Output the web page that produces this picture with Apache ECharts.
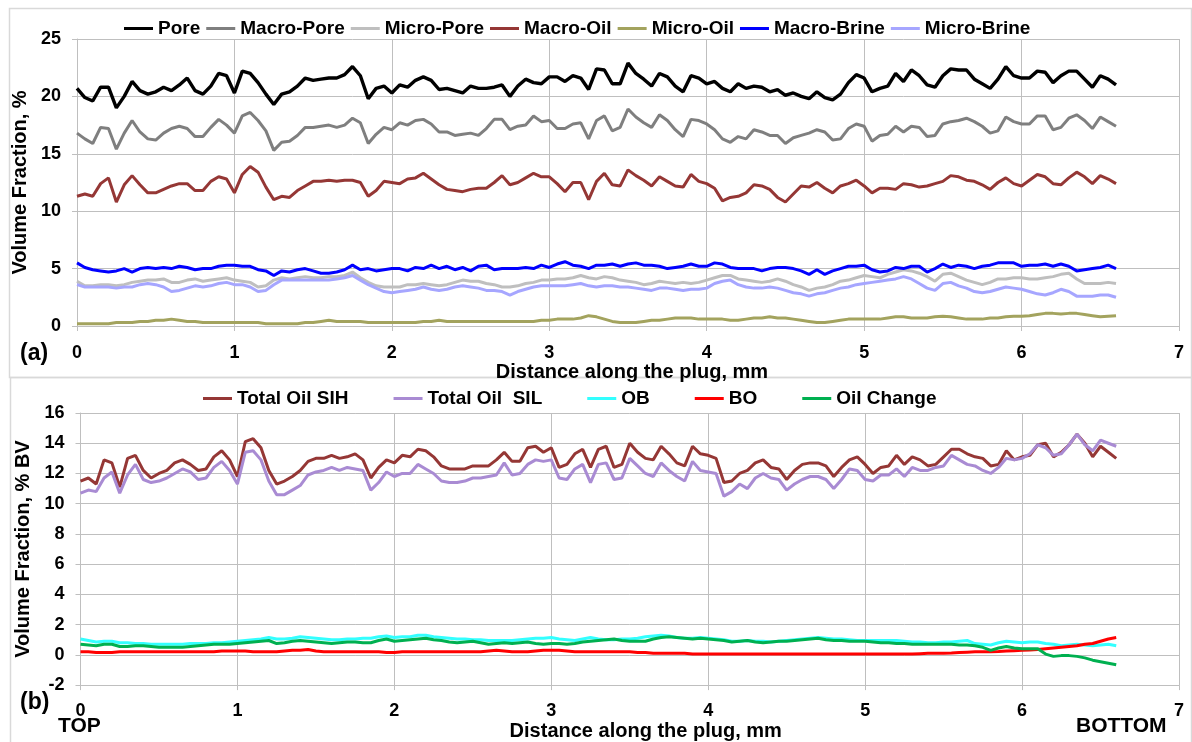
<!DOCTYPE html>
<html><head><meta charset="utf-8">
<script src="https://cdn.jsdelivr.net/npm/echarts@6/dist/echarts.min.js"></script>
<style>html,body{margin:0;padding:0;background:#fff}#c{width:1192px;height:742px}</style>
</head><body><div id="c"></div>
<script>
// Distance along the plug, mm
const distance = [0,0.05,0.1,0.15,0.2,0.25,0.3,0.35,0.4,0.45,
0.5,0.55,0.6,0.65,0.7,0.75,0.8,0.85,0.9,0.95,
1,1.05,1.1,1.15,1.2,1.25,1.3,1.35,1.4,1.45,
1.5,1.55,1.6,1.65,1.7,1.75,1.8,1.85,1.9,1.95,
2,2.05,2.1,2.15,2.2,2.25,2.3,2.35,2.4,2.45,
2.5,2.55,2.6,2.65,2.7,2.75,2.8,2.85,2.9,2.95,
3,3.05,3.1,3.15,3.2,3.25,3.3,3.35,3.4,3.45,
3.5,3.55,3.6,3.65,3.7,3.75,3.8,3.85,3.9,3.95,
4,4.05,4.1,4.15,4.2,4.25,4.3,4.35,4.4,4.45,
4.5,4.55,4.6,4.65,4.7,4.75,4.8,4.85,4.9,4.95,
5,5.05,5.1,5.15,5.2,5.25,5.3,5.35,5.4,5.45,
5.5,5.55,5.6,5.65,5.7,5.75,5.8,5.85,5.9,5.95,
6,6.05,6.1,6.15,6.2,6.25,6.3,6.35,6.4,6.45,
6.5,6.55,6.6];

// Panel (a)
const pore = [20.7,19.9,19.6,20.8,20.8,19.0,20.0,21.3,20.5,20.2,
20.4,20.8,20.5,21.0,21.6,20.5,20.2,20.9,22.0,21.8,
20.3,22.2,22.0,21.2,20.2,19.3,20.2,20.4,20.9,21.6,
21.4,21.5,21.6,21.6,21.9,22.6,21.8,19.8,20.7,20.9,
20.3,21.0,20.8,21.4,21.7,21.4,20.6,20.7,20.5,20.3,
20.9,20.7,20.7,20.8,21.0,20.0,20.9,21.5,21.2,21.1,
21.7,21.7,21.3,21.8,21.6,20.6,22.4,22.3,21.1,21.1,
22.9,22.0,21.5,20.9,22.0,21.7,20.9,20.4,21.8,21.6,
21.1,21.3,20.7,20.4,21.1,20.7,20.9,20.8,20.4,20.6,
20.1,20.3,20.0,19.8,20.4,19.9,19.7,20.2,21.2,21.9,
21.6,20.4,20.7,20.9,22.0,21.3,22.3,21.8,21.0,20.8,
21.8,22.4,22.3,22.3,21.5,21.1,20.7,21.5,22.6,21.8,
21.6,21.6,22.2,22.1,21.2,21.8,22.2,22.2,21.5,20.8,
21.8,21.5,21.0];
const macroPore = [16.8,16.3,15.9,17.3,17.2,15.4,16.8,17.9,16.9,16.3,
16.2,16.8,17.2,17.4,17.2,16.5,16.5,17.3,18.0,17.5,
16.8,18.3,18.6,17.9,17.0,15.3,16.0,16.1,16.6,17.3,
17.3,17.4,17.5,17.3,17.5,18.1,17.7,15.9,16.7,17.3,
17.1,17.7,17.5,17.9,18.0,17.6,16.9,16.9,16.6,16.7,
16.8,16.6,17.2,18.0,18.0,17.1,17.4,17.5,18.3,17.8,
17.9,17.2,17.2,17.6,17.7,16.3,17.9,18.3,17.0,17.3,
18.9,18.2,17.7,17.3,18.4,17.9,17.1,16.5,18.0,17.9,
17.6,17.1,16.3,16.0,16.5,16.3,17.1,16.9,16.6,16.6,
15.9,16.4,16.6,16.8,17.1,16.9,16.2,16.3,17.2,17.6,
17.4,16.1,16.6,16.7,17.4,16.9,17.4,17.3,16.5,16.6,
17.6,17.8,17.9,18.1,17.8,17.4,16.8,17.0,18.2,17.8,
17.6,17.6,18.3,18.3,17.1,17.3,18.1,18.4,17.9,17.2,
18.2,17.8,17.4];
const microPore = [3.9,3.5,3.5,3.6,3.6,3.5,3.6,3.8,3.9,4.0,
4.0,4.1,3.8,3.8,4.0,4.1,3.9,4.0,4.1,4.2,
4.0,3.9,3.8,3.4,3.5,4.0,4.2,4.1,4.2,4.3,
4.2,4.2,4.3,4.3,4.4,4.7,4.2,3.8,3.5,3.4,
3.4,3.4,3.6,3.6,3.7,3.6,3.5,3.6,3.8,4.0,
3.9,3.9,3.7,3.6,3.4,3.4,3.5,3.7,3.8,4.0,
4.0,4.1,4.1,4.2,4.4,4.2,4.1,4.3,4.2,4.0,
3.9,3.8,3.6,3.7,3.9,3.8,3.7,3.8,3.7,3.8,
4.0,4.2,4.4,4.4,4.1,4.0,3.9,3.8,3.9,4.1,
3.9,3.6,3.4,3.1,3.3,3.4,3.6,3.9,4.0,4.2,
4.4,4.3,4.2,4.5,4.7,4.9,4.8,4.6,4.3,3.9,
4.5,4.6,4.3,4.0,3.8,3.6,3.8,4.1,4.1,4.2,
4.2,4.1,4.1,4.2,4.3,4.5,4.6,4.1,3.7,3.7,
3.7,3.8,3.7];
const macroOil = [11.3,11.5,11.3,12.4,12.9,10.8,12.3,13.1,12.3,11.6,
11.6,11.9,12.2,12.4,12.4,11.8,11.8,12.6,13.0,12.8,
11.6,13.2,13.9,13.4,12.1,11.0,11.3,11.2,11.8,12.2,
12.6,12.6,12.7,12.6,12.7,12.7,12.5,11.3,11.8,12.6,
12.5,12.4,12.8,12.9,13.3,12.8,12.3,11.9,11.8,11.7,
11.9,12.0,12.0,12.5,13.1,12.3,12.5,12.9,13.3,13.0,
13.0,12.4,11.7,12.5,12.5,11.0,12.6,13.3,12.3,12.2,
13.6,13.1,12.7,12.2,13.0,12.6,12.2,12.1,13.2,12.6,
12.4,12.0,10.9,11.2,11.3,11.6,12.3,12.2,11.9,11.2,
10.8,11.5,12.2,12.1,12.5,12.0,11.6,12.2,12.4,12.7,
12.2,11.6,12.0,12.0,11.9,12.4,12.3,12.1,12.2,12.4,
12.6,13.1,13.0,12.7,12.6,12.3,11.9,12.5,12.9,12.4,
12.2,12.7,13.2,13.0,12.4,12.3,12.9,13.4,13.0,12.4,
13.1,12.8,12.4];
const microOil = [0.2,0.2,0.2,0.2,0.2,0.3,0.3,0.3,0.4,0.4,
0.5,0.5,0.6,0.5,0.4,0.4,0.3,0.3,0.3,0.3,
0.3,0.3,0.3,0.3,0.2,0.2,0.2,0.2,0.2,0.3,
0.3,0.4,0.5,0.4,0.4,0.4,0.4,0.3,0.3,0.3,
0.3,0.3,0.3,0.3,0.4,0.4,0.5,0.4,0.4,0.4,
0.4,0.4,0.4,0.4,0.4,0.4,0.4,0.4,0.4,0.5,
0.5,0.6,0.6,0.6,0.7,0.9,0.8,0.6,0.4,0.3,
0.3,0.3,0.4,0.5,0.5,0.6,0.7,0.7,0.7,0.6,
0.6,0.6,0.6,0.5,0.5,0.6,0.7,0.7,0.8,0.7,
0.7,0.6,0.5,0.4,0.3,0.3,0.4,0.5,0.6,0.6,
0.6,0.6,0.6,0.7,0.8,0.8,0.7,0.7,0.7,0.8,
0.85,0.8,0.7,0.6,0.6,0.6,0.7,0.7,0.8,0.85,
0.85,0.9,1.0,1.1,1.1,1.05,1.1,1.1,1.0,0.9,
0.8,0.85,0.9];
const macroBrine = [5.5,5.1,4.9,4.8,4.7,4.8,5.0,4.7,5.0,5.1,
5.0,5.1,5.0,5.2,5.1,4.9,5.0,5.0,5.2,5.3,
5.3,5.2,5.2,4.9,4.8,4.4,4.8,4.7,4.9,5.0,
4.8,4.6,4.6,4.7,4.9,5.3,4.9,5.0,4.8,4.9,
5.0,5.0,4.8,5.1,5.0,5.3,5.0,5.2,4.9,5.1,
4.8,5.2,5.3,4.9,5.0,5.0,5.0,5.1,5.0,5.3,
5.1,5.4,5.6,5.3,5.2,5.0,5.3,5.3,5.4,5.2,
5.4,5.5,5.3,5.3,5.2,5.0,5.1,5.2,5.4,5.2,
5.2,5.5,5.4,5.1,5.0,5.0,5.0,4.8,5.0,5.1,
5.1,5.0,4.8,4.5,4.9,4.5,4.8,5.0,5.2,5.2,
5.3,4.9,4.7,4.8,5.1,5.0,5.2,5.2,4.7,5.0,
5.4,5.1,5.3,5.2,5.0,5.2,5.3,5.5,5.5,5.5,
5.2,5.3,5.3,5.4,5.2,5.4,5.2,4.8,4.9,5.0,
5.1,5.3,5.0];
const microBrine = [3.6,3.4,3.4,3.4,3.4,3.3,3.4,3.4,3.6,3.7,
3.6,3.4,3.0,3.1,3.3,3.5,3.4,3.5,3.7,3.8,
3.6,3.6,3.4,3.0,3.1,3.6,4.0,4.0,4.0,4.0,
4.0,4.0,4.0,4.1,4.2,4.4,4.0,3.6,3.3,3.0,
2.9,3.0,3.1,3.2,3.4,3.2,3.1,3.2,3.4,3.5,
3.4,3.3,3.1,3.1,3.0,2.7,3.0,3.2,3.4,3.5,
3.5,3.5,3.5,3.6,3.7,3.5,3.4,3.5,3.5,3.4,
3.4,3.3,3.2,3.1,3.3,3.3,3.2,3.1,3.2,3.2,
3.3,3.7,3.9,4.0,3.6,3.4,3.3,3.3,3.4,3.3,
3.1,2.9,2.8,2.6,2.8,2.9,3.1,3.3,3.4,3.6,
3.7,3.8,3.9,4.0,4.1,4.3,4.1,3.7,3.3,3.1,
3.7,3.8,3.5,3.3,3.0,2.9,3.0,3.2,3.4,3.3,
3.2,3.0,2.8,2.7,2.9,3.2,3.0,2.6,2.6,2.6,
2.7,2.7,2.5];

// Panel (b)
const totalOilSIH = [11.5,11.7,11.3,12.9,12.7,11.1,13.0,13.2,12.2,11.7,
12.0,12.2,12.7,12.9,12.6,12.2,12.3,13.1,13.5,12.9,
11.8,14.1,14.3,13.7,12.2,11.3,11.5,11.8,12.2,12.8,
13.0,13.0,13.2,13.0,13.1,13.3,12.9,11.7,12.4,12.9,
12.7,13.2,13.1,13.6,13.5,13.1,12.5,12.3,12.3,12.3,
12.5,12.5,12.5,12.9,13.4,12.8,12.8,13.7,13.8,13.4,
13.7,12.4,12.6,13.3,13.6,12.4,13.6,13.8,12.4,12.6,
14.0,13.4,13.0,12.9,13.8,13.3,12.7,12.5,13.8,13.3,
13.2,13.0,11.4,11.5,12.0,12.2,12.7,12.9,12.4,12.3,
11.6,12.2,12.6,12.7,12.7,12.5,11.8,12.4,12.9,13.1,
12.6,12.0,12.4,12.5,13.2,12.6,13.1,12.9,12.5,12.6,
13.1,13.6,13.6,13.3,13.1,13.0,12.5,12.6,13.5,12.9,
13.1,13.2,13.9,14.0,13.1,13.4,13.9,14.6,14.0,13.1,
13.8,13.4,13.0];
const totalOilSIL = [10.7,10.9,10.8,11.7,12.1,10.7,11.9,12.6,11.6,11.4,
11.5,11.7,12.0,12.3,12.1,11.6,11.7,12.4,12.8,12.2,
11.3,13.4,13.5,12.9,11.5,10.6,10.6,10.9,11.2,11.9,
12.1,12.2,12.4,12.2,12.4,12.3,12.2,10.9,11.4,12.1,
11.8,12.0,12.0,12.6,12.3,12.0,11.5,11.4,11.4,11.5,
11.7,11.7,11.8,11.9,12.7,11.9,12.0,12.6,12.9,12.8,
12.9,11.7,11.6,12.3,12.6,11.4,12.6,12.7,11.6,11.7,
13.0,12.5,12.0,11.8,12.7,12.2,11.8,11.5,12.8,12.2,
12.1,12.0,10.5,10.8,11.3,11.0,11.7,12.0,11.7,11.6,
10.9,11.3,11.6,11.8,11.8,11.6,11.0,11.6,12.3,12.2,
11.6,11.5,11.9,11.9,12.3,11.8,12.4,12.2,12.2,12.4,
12.5,13.2,12.9,12.6,12.5,12.2,12.0,12.4,13.0,12.9,
13.0,13.3,13.9,13.7,13.2,13.3,13.9,14.6,13.9,13.5,
14.2,14.0,13.8];
const ob = [1.05,0.95,0.85,0.9,0.9,0.8,0.8,0.75,0.75,0.7,
0.7,0.7,0.7,0.7,0.75,0.75,0.75,0.8,0.8,0.85,
0.9,0.95,1.0,1.05,1.15,1.05,1.05,1.1,1.2,1.15,
1.1,1.05,1.0,1.0,1.05,1.05,1.1,1.1,1.2,1.25,
1.15,1.2,1.2,1.3,1.3,1.2,1.15,1.1,1.05,1.05,
1.0,1.0,0.95,0.95,0.95,0.95,1.0,1.05,1.1,1.1,
1.15,1.05,1.0,0.95,1.05,1.15,1.05,1.0,1.0,1.05,
1.05,1.1,1.2,1.25,1.3,1.25,1.15,1.1,1.1,1.15,
1.1,1.05,1.0,0.9,0.9,0.95,0.9,0.9,0.85,0.9,
0.95,1.0,1.05,1.1,1.15,1.1,1.05,1.05,1.0,0.95,
0.95,0.95,0.95,0.95,0.95,0.9,0.85,0.85,0.8,0.8,
0.85,0.85,0.9,0.95,0.75,0.7,0.65,0.8,0.9,0.85,
0.8,0.85,0.85,0.75,0.7,0.6,0.65,0.7,0.65,0.6,
0.65,0.7,0.6];
const bo = [0.2,0.2,0.15,0.15,0.15,0.2,0.2,0.2,0.2,0.2,
0.2,0.2,0.2,0.2,0.2,0.2,0.2,0.2,0.25,0.25,
0.25,0.25,0.2,0.2,0.2,0.2,0.25,0.3,0.3,0.35,
0.25,0.2,0.2,0.2,0.2,0.2,0.2,0.2,0.2,0.15,
0.15,0.2,0.2,0.2,0.2,0.2,0.2,0.2,0.2,0.2,
0.2,0.2,0.25,0.3,0.25,0.2,0.2,0.2,0.25,0.3,
0.3,0.3,0.25,0.2,0.2,0.2,0.2,0.2,0.2,0.2,
0.2,0.15,0.15,0.1,0.1,0.1,0.1,0.1,0.05,0.05,
0.05,0.05,0.05,0.05,0.05,0.05,0.05,0.05,0.05,0.05,
0.05,0.05,0.05,0.05,0.05,0.05,0.05,0.05,0.05,0.05,
0.05,0.05,0.05,0.05,0.05,0.05,0.05,0.08,0.1,0.1,
0.1,0.12,0.15,0.18,0.2,0.2,0.2,0.22,0.25,0.28,
0.3,0.32,0.35,0.4,0.45,0.5,0.55,0.6,0.7,0.75,
0.9,1.05,1.15];
const oilChange = [0.7,0.65,0.6,0.7,0.7,0.55,0.55,0.6,0.6,0.55,
0.5,0.5,0.5,0.5,0.55,0.6,0.65,0.7,0.7,0.7,
0.75,0.8,0.85,0.9,0.95,0.75,0.8,0.9,0.95,0.9,
0.85,0.8,0.75,0.8,0.85,0.85,0.8,0.8,0.95,1.05,
0.9,0.95,1.0,1.05,1.1,1.0,0.95,0.85,0.8,0.85,
0.9,0.8,0.7,0.75,0.8,0.75,0.8,0.85,0.75,0.7,
0.75,0.75,0.7,0.75,0.85,0.9,0.95,1.0,1.05,0.95,
0.9,0.9,0.9,1.05,1.15,1.2,1.15,1.1,1.05,1.1,
1.05,1.0,0.95,0.85,0.9,0.95,0.85,0.8,0.85,0.9,
0.9,0.95,1.0,1.05,1.1,1.0,0.95,0.95,0.9,0.9,
0.9,0.85,0.8,0.8,0.75,0.75,0.7,0.7,0.7,0.7,
0.7,0.7,0.65,0.65,0.6,0.5,0.3,0.45,0.55,0.45,
0.4,0.4,0.4,0.05,-0.1,-0.05,-0.05,-0.1,-0.2,-0.35,
-0.45,-0.55,-0.65];

const xTicks = [0,1,2,3,4,5,6,7];

const F = '"Liberation Sans", Arial, Helvetica, sans-serif';
const GRID = '#BFBFBF';
function pts(ys){ return distance.map((x,i)=>[x, ys[i]]); }

const tickLbl = {fontFamily:F, fontWeight:'bold', fontSize:18, color:'#000'};
const legendText = {fontFamily:F, fontWeight:'bold', fontSize:19, color:'#000'};

function xAx(gi, gap, pad, margin){
  return {gridIndex:gi, type:'value', min:0, max:7, interval:1,
    name:'Distance along the plug, mm', nameLocation:'middle', nameGap:gap,
    nameTextStyle:{fontFamily:F, fontWeight:'bold', fontSize:20, color:'#000', padding:pad},
    axisLine:{show:true, onZero:false, lineStyle:{color:GRID, width:1}},
    axisTick:{show:true, length:5, lineStyle:{color:GRID}},
    axisLabel:Object.assign({margin:margin, formatter:(v)=>xTicks.includes(v)?String(v):''}, tickLbl),
    splitLine:{show:true, lineStyle:{color:GRID, width:1}}};
}
function yAx(gi, min, max, itv, name, gap){
  return {gridIndex:gi, type:'value', min:min, max:max, interval:itv,
    name:name, nameLocation:'middle', nameGap:gap,
    nameTextStyle:{fontFamily:F, fontWeight:'bold', fontSize:20, color:'#000'},
    axisLine:{show:true, lineStyle:{color:GRID, width:1}},
    axisTick:{show:true, length:5, lineStyle:{color:GRID}},
    axisLabel:Object.assign({margin:16}, tickLbl),
    splitLine:{show:true, lineStyle:{color:GRID, width:1}}};
}
function ln(name, ys, color, gi, w){
  return {name:name, type:'line', xAxisIndex:gi, yAxisIndex:gi, data:pts(ys),
    symbol:'none', showSymbol:false, color:color, lineStyle:{color:color, width:w||3},
    smooth:false, animation:false};
}

const chart = echarts.init(document.getElementById('c'), null, {renderer:'canvas'});
chart.setOption({
  animation:false,
  backgroundColor:'#ffffff',
  graphic:[
    {type:'rect', shape:{x:9.5, y:8.5, width:1182, height:369}, style:{fill:'none', stroke:'#D9D9D9', lineWidth:1.5}, silent:true},
    {type:'rect', shape:{x:10.5, y:377.5, width:1181, height:370}, style:{fill:'none', stroke:'#D9D9D9', lineWidth:1.5}, silent:true},
    {type:'text', left:20, top:342, style:{text:'(a)', font:'bold 23px '+F, fill:'#000'}},
    {type:'text', left:20, top:691, style:{text:'(b)', font:'bold 23px '+F, fill:'#000'}},
    {type:'text', left:58, top:716, style:{text:'TOP', font:'bold 21px '+F, fill:'#000'}},
    {type:'text', left:1076, top:716, style:{text:'BOTTOM', font:'bold 21px '+F, fill:'#000'}}
  ],
  legend:[
    {data:['Pore','Macro-Pore','Micro-Pore','Macro-Oil','Micro-Oil','Macro-Brine','Micro-Brine'],
     left:124, top:19, padding:0, itemWidth:29, itemHeight:3, itemGap:6, icon:'rect', textStyle:legendText},
    {data:['Total Oil SIH','Total Oil  SIL','OB','BO','Oil Change'],
     left:203, top:389, padding:0, itemWidth:29, itemHeight:3, itemGap:45, icon:'rect', textStyle:legendText}
  ],
  grid:[
    {left:77, top:39, width:1102, height:287, containLabel:false},
    {left:80.5, top:413, width:1098.5, height:273, containLabel:false}
  ],
  xAxis:[ xAx(0, 29, [0,0,0,8], 18), xAx(1, 32, [0,0,0,32], 17) ],
  yAxis:[ yAx(0, 0, 25, 5, 'Volume Fraction, %', 40), yAx(1, -2, 16, 2, 'Volume Fraction, % BV', 44) ],
  series:[
    ln('Pore', pore, '#000000', 0, 3.4),
    ln('Macro-Pore', macroPore, '#7F7F7F', 0),
    ln('Micro-Pore', microPore, '#BFBFBF', 0),
    ln('Macro-Oil', macroOil, '#953735', 0),
    ln('Micro-Oil', microOil, '#A3A35E', 0),
    ln('Macro-Brine', macroBrine, '#0000FF', 0),
    ln('Micro-Brine', microBrine, '#A6A6FF', 0),
    ln('Total Oil SIH', totalOilSIH, '#953735', 1),
    ln('Total Oil  SIL', totalOilSIL, '#A98BD3', 1),
    ln('OB', ob, '#33FFFF', 1),
    ln('BO', bo, '#FF0000', 1),
    ln('Oil Change', oilChange, '#00B050', 1)
  ]
});
</script></body></html>
